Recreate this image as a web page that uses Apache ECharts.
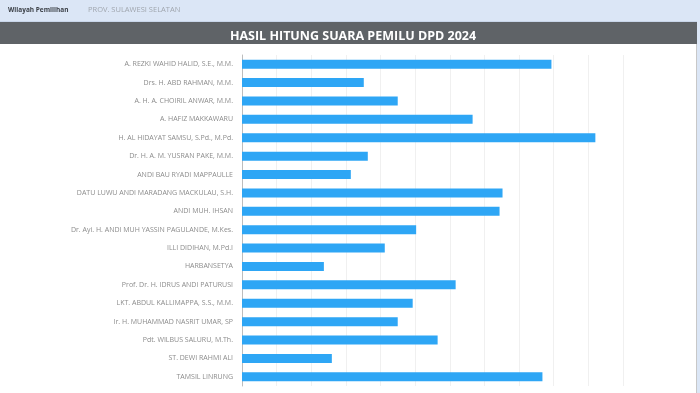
<!DOCTYPE html>
<html>
<head>
<meta charset="utf-8">
<script src="https://cdn.jsdelivr.net/npm/echarts@6/dist/echarts.min.js"></script>
<style>
html,body{margin:0;padding:0;background:#ffffff;}
#chart{width:700px;height:393px;}
</style>
</head>
<body>
<div id="chart"></div>
<script>
var regionLabel = 'Wilayah Pemilihan';
var regionName = 'PROV. SULAWESI SELATAN';
var chartTitle = 'HASIL HITUNG SUARA PEMILU DPD 2024';

var candidates = [
  'A. REZKI WAHID HALID, S.E., M.M.',
  'Drs. H. ABD RAHMAN, M.M.',
  'A. H. A. CHOIRIL ANWAR, M.M.',
  'A. HAFIZ MAKKAWARU',
  'H. AL HIDAYAT SAMSU, S.Pd., M.Pd.',
  'Dr. H. A. M. YUSRAN PAKE, M.M.',
  'ANDI BAU RYADI MAPPAULLE',
  'DATU LUWU ANDI MARADANG MACKULAU, S.H.',
  'ANDI MUH. IHSAN',
  'Dr. Ayi. H. ANDI MUH YASSIN PAGULANDE, M.Kes.',
  'ILLI DIDIHAN, M.Pd.I',
  'HARBANSETYA',
  'Prof. Dr. H. IDRUS ANDI PATURUSI',
  'LKT. ABDUL KALLIMAPPA, S.S., M.M.',
  'Ir. H. MUHAMMAD NASRIT UMAR, SP',
  'Pdt. WILBUS SALURU, M.Th.',
  'ST. DEWI RAHMI ALI',
  'TAMSIL LINRUNG'
];

var votes = [
  446700, 175800, 224800, 332900, 510100, 181600, 157100, 376100, 371800,
  251400, 206100, 118200, 308400, 246400, 224800, 282400, 129700, 433700
];

var axisMin = 0;
var axisMax = 550000;
var axisInterval = 50000;

var chart = echarts.init(document.getElementById('chart'), null, {renderer: 'canvas'});
chart.setOption({
  animation: false,
  backgroundColor: '#ffffff',
  graphic: [
    {type: 'rect', z: -10, shape: {x: 0, y: 0, width: 700, height: 21}, style: {fill: '#dbe6f6'}},
    {type: 'rect', z: -10, shape: {x: 0, y: 21, width: 700, height: 1}, style: {fill: '#c9d6ea'}},
    {type: 'rect', z: -10, shape: {x: 697, y: 21, width: 3, height: 372}, style: {fill: '#dbe6f6'}},
    {type: 'rect', z: -10, shape: {x: 0, y: 22, width: 697, height: 22}, style: {fill: '#5f6367'}},
    {type: 'rect', z: -10, shape: {x: 696, y: 44, width: 1, height: 349}, style: {fill: '#c8c8c8'}},
    {type: 'text', left: 8, top: 7, style: {text: regionLabel, fill: '#3a3f46', font: 'bold 6.5px "Open Sans", sans-serif'}},
    {type: 'text', left: 88, top: 6, style: {text: regionName, fill: '#a0a6ae', font: '7.5px "Open Sans", sans-serif'}}
  ],
  title: {
    text: chartTitle,
    left: 348,
    textAlign: 'center',
    top: 25,
    textStyle: {color: '#ffffff', fontSize: 12.5, fontWeight: 'bold', fontFamily: '"Open Sans", sans-serif'}
  },
  grid: {left: 242, right: 77, top: 55, bottom: 7, containLabel: false},
  xAxis: {
    type: 'value',
    min: axisMin,
    max: axisMax,
    interval: axisInterval,
    axisLabel: {show: false},
    axisLine: {show: false},
    axisTick: {show: false},
    splitLine: {show: true, lineStyle: {color: '#f0f0f0', width: 1}}
  },
  yAxis: {
    type: 'category',
    data: candidates,
    inverse: true,
    axisTick: {show: false},
    axisLine: {show: true, lineStyle: {color: '#bdbdbd', width: 1}},
    axisLabel: {
      color: '#8c8c8c',
      fontSize: 7,
      fontFamily: '"Open Sans", sans-serif',
      margin: 9
    }
  },
  series: [{
    type: 'bar',
    data: votes,
    barWidth: 9,
    itemStyle: {color: '#2ea6f5'}
  }]
});
</script>
</body>
</html>
